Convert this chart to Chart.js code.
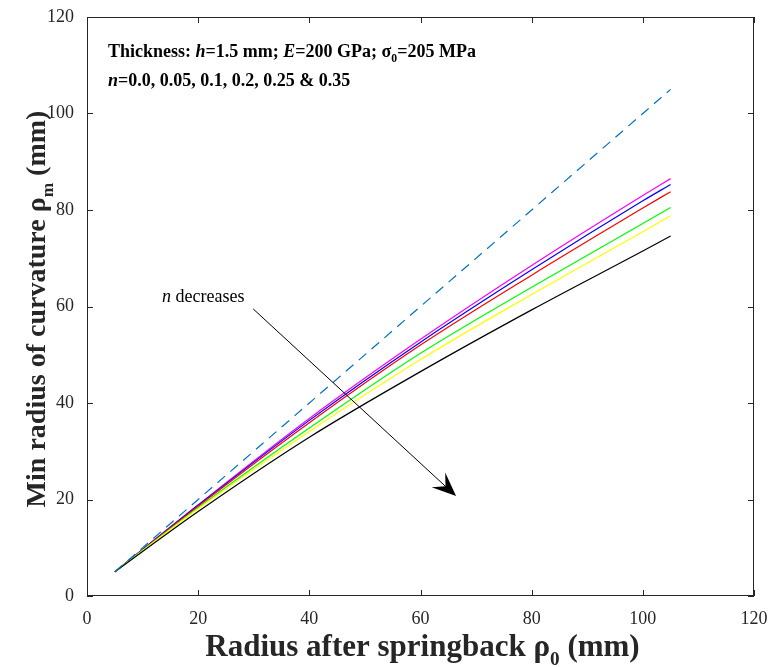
<!DOCTYPE html>
<html>
<head>
<meta charset="utf-8">
<script src="https://cdn.jsdelivr.net/npm/chart.js@4"></script>
<style>
  html, body { margin: 0; padding: 0; background: #fff; }
  #wrap { width: 771px; height: 667px; }
</style>
</head>
<body>
<div id="wrap"><canvas id="springChart" width="771" height="667"></canvas></div>
<script>
// Radius after springback (mm)
const rho0 = [5, 20, 40, 60, 80, 100, 105];

// Min radius of curvature for each n (mm)
const n035 = [5, 18.9, 36.8, 53.2, 68.5, 83.0, 86.5];
const n025 = [5, 18.8, 36.4, 52.6, 67.6, 81.9, 85.3];
const n020 = [5, 18.6, 35.9, 52.0, 66.5, 80.4, 83.8];
const n010 = [5, 18.3, 34.8, 50.3, 64.0, 77.2, 80.5];
const n005 = [5, 18.1, 34.1, 49.0, 62.5, 75.5, 78.8];
const n000 = [5, 17.5, 32.9, 46.5, 59.3, 71.5, 74.6];
// elastic reference line (no springback)
const elastic = [5, 20, 40, 60, 80, 100, 105];

const xTicks = [0, 20, 40, 60, 80, 100, 120];
const yTicks = [0, 20, 40, 60, 80, 100, 120];

// arrow "n decreases" in data units: from -> to
const arrowFrom = [29.9, 59.5];
const arrowTo = [66.4, 20.7];

const serif = "'Liberation Serif', 'Times New Roman', serif";
const axisColor = '#262626';

function pts(ys) {
    return rho0.map((x, i) => ({ x: x, y: ys[i] }));
}

function line(ys, color, dash) {
    return {
        data: pts(ys),
        borderColor: color,
        backgroundColor: color,
        borderWidth: 1.2,
        borderDash: dash || [],
        showLine: true,
        pointRadius: 0,
        cubicInterpolationMode: 'monotone',
        fill: false
    };
}

// centred text with a subscript part: parts = [[text, isSub], ...]
function drawParts(ctx, parts, x, y, size, bold) {
    const w = bold ? 'bold ' : '';
    let total = 0;
    parts.forEach(p => {
        ctx.font = w + (p[1] ? size * 0.62 : size) + 'px ' + serif;
        total += ctx.measureText(p[0]).width;
    });
    let cx = x - total / 2;
    parts.forEach(p => {
        ctx.font = w + (p[1] ? size * 0.62 : size) + 'px ' + serif;
        ctx.fillText(p[0], cx, p[1] ? y + size * 0.28 : y);
        cx += ctx.measureText(p[0]).width;
    });
}

// left-aligned rich text: parts = [[text, style, isSub]]
function drawRich(ctx, parts, x, y, size) {
    let cx = x;
    parts.forEach(p => {
        const s = p[2] ? size * 0.65 : size;
        ctx.font = p[1] + ' ' + s + 'px ' + serif;
        ctx.fillText(p[0], cx, p[2] ? y + size * 0.3 : y);
        cx += ctx.measureText(p[0]).width;
    });
}

const decorPlugin = {
    id: 'decor',
    afterDraw(chart) {
        const ctx = chart.ctx;
        const a = chart.chartArea;
        const xs = chart.scales.x, ys = chart.scales.y;
        ctx.save();

        // frame and inward ticks on all four sides
        ctx.strokeStyle = axisColor;
        ctx.lineWidth = 1;
        ctx.strokeRect(a.left + 0.5, a.top + 0.5, a.right - a.left - 1, a.bottom - a.top - 1);
        const tl = 6;
        ctx.beginPath();
        xTicks.forEach(v => {
            const px = Math.round(xs.getPixelForValue(v)) + 0.5;
            ctx.moveTo(px, a.bottom); ctx.lineTo(px, a.bottom - tl);
            ctx.moveTo(px, a.top); ctx.lineTo(px, a.top + tl);
        });
        yTicks.forEach(v => {
            const py = Math.round(ys.getPixelForValue(v)) + 0.5;
            ctx.moveTo(a.left, py); ctx.lineTo(a.left + tl, py);
            ctx.moveTo(a.right, py); ctx.lineTo(a.right - tl, py);
        });
        ctx.stroke();

        // axis titles
        ctx.fillStyle = axisColor;
        ctx.textBaseline = 'alphabetic';
        drawParts(ctx, [['Radius after springback \u03C1', false], ['0', true], [' (mm)', false]],
            (a.left + a.right) / 2 + 2, 656, 31, true);
        ctx.save();
        ctx.translate(45, 309);
        ctx.rotate(-Math.PI / 2);
        drawParts(ctx, [['Min radius of curvature \u03C1', false], ['m', true], [' (mm)', false]],
            0, 0, 28, true);
        ctx.restore();

        // annotation text
        ctx.fillStyle = '#000';
        drawRich(ctx, [['Thickness: ', 'bold'], ['h', 'italic bold'], ['=1.5 mm; ', 'bold'],
            ['E', 'italic bold'], ['=200 GPa; \u03C3', 'bold'], ['0', 'bold', true], ['=205 MPa', 'bold']],
            108, 57, 18);
        drawRich(ctx, [['n', 'italic bold'], ['=0.0, 0.05, 0.1, 0.2, 0.25 & 0.35', 'bold']],
            108, 86, 18);
        drawRich(ctx, [['n', 'italic'], [' decreases', 'normal']], 162, 302, 18);

        // arrow
        const x1 = xs.getPixelForValue(arrowFrom[0]), y1 = ys.getPixelForValue(arrowFrom[1]);
        const x2 = xs.getPixelForValue(arrowTo[0]), y2 = ys.getPixelForValue(arrowTo[1]);
        const ang = Math.atan2(y2 - y1, x2 - x1);
        ctx.strokeStyle = '#000';
        ctx.lineWidth = 1;
        ctx.beginPath();
        ctx.moveTo(x1, y1);
        ctx.lineTo(x2 - 14 * Math.cos(ang), y2 - 14 * Math.sin(ang));
        ctx.stroke();
        const L = 24, W = 10;
        const bx = x2 - L * Math.cos(ang), by = y2 - L * Math.sin(ang);
        const mx = x2 - L * 0.6 * Math.cos(ang), my = y2 - L * 0.6 * Math.sin(ang);
        ctx.fillStyle = '#000';
        ctx.beginPath();
        ctx.moveTo(x2, y2);
        ctx.lineTo(bx + W * Math.sin(ang), by - W * Math.cos(ang));
        ctx.lineTo(mx, my);
        ctx.lineTo(bx - W * Math.sin(ang), by + W * Math.cos(ang));
        ctx.closePath();
        ctx.fill();

        ctx.restore();
    }
};

const chart = new Chart(document.getElementById('springChart'), {
    type: 'scatter',
    data: {
        datasets: [
            line(elastic, '#0072BD', [10, 7]),
            line(n000, '#000000'),
            line(n005, '#ffff00'),
            line(n010, '#00ff00'),
            line(n020, '#ff0000'),
            line(n025, '#0000ff'),
            line(n035, '#ff00ff')
        ]
    },
    options: {
        responsive: false,
        animation: false,
        layout: { padding: { left: 0, right: 17, top: 17, bottom: 0 } },
        plugins: {
            legend: { display: false },
            tooltip: { enabled: false }
        },
        scales: {
            x: {
                type: 'linear',
                min: 0, max: 120,
                afterFit: s => { s.height = 71; s.paddingLeft = 0; s.paddingRight = 0; },
                afterBuildTicks: s => { s.ticks = xTicks.map(v => ({ value: v })); },
                grid: { display: false, drawTicks: false },
                border: { display: false },
                ticks: {
                    padding: 12,
                    color: axisColor,
                    font: { family: serif, size: 18 },
                    maxRotation: 0
                }
            },
            y: {
                type: 'linear',
                min: 0, max: 120,
                afterFit: s => { s.width = 87; s.paddingTop = 0; s.paddingBottom = 0; },
                afterBuildTicks: s => { s.ticks = yTicks.map(v => ({ value: v })); },
                grid: { display: false, drawTicks: false },
                border: { display: false },
                ticks: {
                    padding: 13,
                    color: axisColor,
                    font: { family: serif, size: 18 }
                }
            }
        }
    },
    plugins: [decorPlugin]
});
</script>
</body>
</html>
